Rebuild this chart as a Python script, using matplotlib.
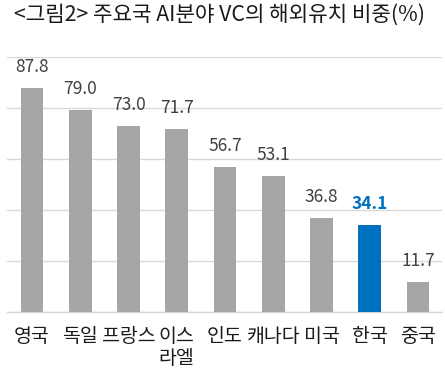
import matplotlib
matplotlib.use("Agg")
import matplotlib.pyplot as plt

plt.rcParams['font.family'] = ['Noto Sans CJK KR', 'DejaVu Sans']

categories = ['영국', '독일', '프랑스', '이스\n라엘', '인도', '캐나다', '미국', '한국', '중국']
values = [87.8, 79.0, 73.0, 71.7, 56.7, 53.1, 36.8, 34.1, 11.7]
highlight = '한국'
title = '<그림2> 주요국 AI분야 VC의 해외유치 비중(%)'

gray = '#A6A6A6'
blue = '#0070C0'
text_gray = '#404040'

fig = plt.figure(figsize=(4.45, 3.78), dpi=100)
ax = fig.add_axes([7/445, (378-311.7)/378, 435/445, 255/378])

x = list(range(len(categories)))
colors = [blue if c == highlight else gray for c in categories]
bars = ax.bar(x, values, width=0.47, color=colors, zorder=3)

for xi, v, c in zip(x, values, categories):
    is_h = c == highlight
    ax.annotate(f'{v:.1f}', xy=(xi, v), xytext=(0, 11.5), textcoords='offset points',
                ha='center', va='baseline', fontsize=12.5,
                color=blue if is_h else text_gray,
                fontweight='bold' if is_h else 'normal')

ax.set_xlim(-0.52, 8.5)
ax.set_ylim(0, 100)
ax.set_yticks([0, 20, 40, 60, 80, 100])
ax.yaxis.grid(True, color='#D9D9D9', linewidth=1.0, zorder=0)
ax.tick_params(axis='y', left=False, labelleft=False)
ax.set_xticks(x)
ax.set_xticklabels(categories, fontsize=14, color='#1a1a1a', linespacing=1.05)
ax.tick_params(axis='x', bottom=False, pad=7)
for s in ['top', 'right', 'left']:
    ax.spines[s].set_visible(False)
ax.spines['bottom'].set_color('#D9D9D9')
ax.spines['bottom'].set_linewidth(1.0)

fig.text(14/445, 1 - 15/378, title, ha='left', va='center', fontsize=15.3, color='#1a1a1a')

fig.savefig('out.png', dpi=100)
